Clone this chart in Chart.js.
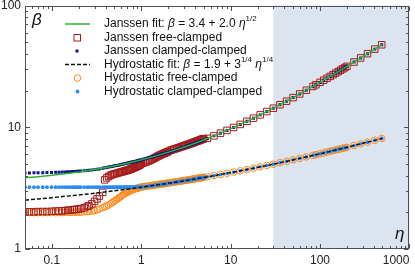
<!DOCTYPE html>
<html>
<head>
<meta charset="utf-8">
<script src="https://cdn.jsdelivr.net/npm/chart.js@4.4.1/dist/chart.umd.min.js"></script>
<style>
  html, body { margin: 0; padding: 0; background: #fff; }
</style>
</head>
<body>
<canvas id="myChart" width="415" height="270"></canvas>
<script>
// eta values of the computed points (shared by the four data sets)
const eta = [
  // 0.05 - 0.37
  0.05, 0.056, 0.063, 0.07, 0.079, 0.088, 0.099, 0.11, 0.12, 0.13,
  0.14, 0.15, 0.16, 0.17, 0.18, 0.19, 0.2, 0.21, 0.23, 0.25,
  0.26, 0.28, 0.3, 0.32, 0.34, 0.37,
  // 0.39 - 0.97
  0.39, 0.41, 0.43, 0.45, 0.47, 0.49, 0.51, 0.53, 0.55, 0.57,
  0.59, 0.61, 0.63, 0.65, 0.67, 0.69, 0.71, 0.73, 0.75, 0.77,
  0.79, 0.81, 0.83, 0.85, 0.87, 0.89, 0.91, 0.93, 0.95, 0.97,
  // 1 - 5
  1, 1.05, 1.1, 1.15, 1.2, 1.25, 1.3, 1.35, 1.4, 1.45,
  1.5, 1.55, 1.6, 1.65, 1.7, 1.75, 1.8, 1.85, 1.9, 1.95, 2,
  2.1, 2.2, 2.3, 2.4, 2.5, 2.6, 2.7, 2.8, 2.9, 3,
  3.1, 3.2, 3.3, 3.4, 3.5, 3.6, 3.7, 3.8, 3.9, 4,
  4.1, 4.2, 4.3, 4.4, 4.5, 4.6, 4.7, 4.8, 4.9, 5,
  // 5.5 - 490
  5.5, 6.5, 7.7, 9.1, 10.8, 12.8, 15.2, 18, 21.4, 25.4,
  30, 35.6, 42.2, 50, 59.3, 70.3, 83.4, 90, 100, 110,
  120, 130, 140, 150, 160, 170, 180, 190, 200,
  240, 285, 340, 410, 490
]

const janssenFree = [
  2.02, 2.02, 2.02, 2.03, 2.03, 2.03, 2.04, 2.05, 2.05, 2.06,
  2.07, 2.08, 2.09, 2.10, 2.11, 2.12, 2.13, 2.15, 2.18, 2.24,
  2.27, 2.35, 2.46, 2.58, 2.72, 2.92,
  3.70, 3.84, 3.94, 4.02, 4.07, 4.12, 4.15, 4.18, 4.22, 4.25,
  4.28, 4.31, 4.34, 4.37, 4.40, 4.42, 4.45, 4.48, 4.52, 4.55,
  4.58, 4.62, 4.65, 4.69, 4.72, 4.76, 4.80, 4.84, 4.88, 4.92,
  5.02, 5.08, 5.15, 5.21, 5.28, 5.35, 5.42, 5.50, 5.58, 5.66,
  5.74, 5.81, 5.88, 5.94, 6.00, 6.06, 6.12, 6.17, 6.22, 6.27, 6.32,
  6.46, 6.53, 6.59, 6.66, 6.73, 6.79, 6.85, 6.92, 6.98, 7.04,
  7.09, 7.15, 7.21, 7.27, 7.32, 7.37, 7.43, 7.48, 7.53, 7.59,
  7.64, 7.69, 7.74, 7.78, 7.83, 7.88, 7.93, 7.98, 8.02, 8.07,
  8.12, 8.50, 8.95, 9.43, 9.97, 10.56, 11.20, 11.89, 12.65, 13.48,
  14.35, 15.33, 16.39, 17.54, 18.80, 20.17, 21.67, 22.37, 23.40, 24.38,
  25.31, 26.20, 27.06, 27.90, 28.70, 29.48, 30.23, 30.97, 31.68,
  34.38, 37.16, 40.28, 43.90, 47.67
]

const janssenClamped = [
  4.22, 4.22, 4.23, 4.23, 4.24, 4.25, 4.26, 4.27, 4.28, 4.29,
  4.30, 4.31, 4.32, 4.33, 4.34, 4.35, 4.36, 4.37, 4.40, 4.42,
  4.44, 4.46, 4.49, 4.52, 4.55, 4.60,
  4.65, 4.68, 4.71, 4.74, 4.77, 4.80, 4.83, 4.86, 4.88, 4.91,
  4.94, 4.96, 4.99, 5.01, 5.04, 5.06, 5.09, 5.11, 5.13, 5.16,
  5.18, 5.20, 5.22, 5.24, 5.27, 5.29, 5.31, 5.33, 5.35, 5.37,
  5.42, 5.47, 5.52, 5.57, 5.61, 5.66, 5.70, 5.74, 5.79, 5.83,
  5.87, 5.91, 5.95, 5.99, 6.03, 6.06, 6.10, 6.14, 6.17, 6.21, 6.24,
  6.30, 6.37, 6.43, 6.50, 6.56, 6.63, 6.69, 6.75, 6.81, 6.86,
  6.92, 6.98, 7.03, 7.09, 7.14, 7.20, 7.25, 7.30, 7.35, 7.40,
  7.45, 7.50, 7.55, 7.60, 7.64, 7.69, 7.74, 7.78, 7.83, 7.87,
  8.09, 8.50, 8.95, 9.43, 9.97, 10.56, 11.20, 11.89, 12.65, 13.48,
  14.35, 15.33, 16.39, 17.54, 18.80, 20.17, 21.67, 22.37, 23.40, 24.38,
  25.31, 26.20, 27.06, 27.90, 28.70, 29.48, 30.23, 30.97, 31.68,
  34.38, 37.16, 40.28, 43.90, 47.67
]

const hydroFree = [
  1.99, 1.99, 1.99, 1.99, 1.99, 1.99, 1.99, 1.99, 1.99, 1.99,
  2.00, 2.00, 2.00, 2.00, 2.00, 2.01, 2.01, 2.01, 2.02, 2.03,
  2.04, 2.05, 2.07, 2.10, 2.13, 2.18,
  2.22, 2.26, 2.30, 2.35, 2.40, 2.45, 2.50, 2.55, 2.60, 2.65,
  2.70, 2.75, 2.80, 2.84, 2.88, 2.91, 2.95, 2.98, 3.01, 3.04,
  3.06, 3.08, 3.10, 3.12, 3.14, 3.15, 3.16, 3.18, 3.19, 3.21,
  3.23, 3.25, 3.26, 3.28, 3.29, 3.31, 3.32, 3.33, 3.35, 3.36,
  3.37, 3.38, 3.40, 3.41, 3.42, 3.43, 3.44, 3.45, 3.46, 3.47, 3.48,
  3.50, 3.52, 3.54, 3.55, 3.57, 3.59, 3.60, 3.62, 3.63, 3.65,
  3.66, 3.68, 3.69, 3.70, 3.72, 3.73, 3.74, 3.75, 3.77, 3.78,
  3.79, 3.80, 3.81, 3.82, 3.83, 3.84, 3.85, 3.86, 3.87, 3.88,
  3.92, 4.00, 4.09, 4.19, 4.29, 4.39, 4.50, 4.61, 4.73, 4.86,
  4.98, 5.12, 5.25, 5.40, 5.55, 5.71, 5.88, 5.95, 6.06, 6.16,
  6.26, 6.34, 6.43, 6.51, 6.58, 6.65, 6.72, 6.79, 6.85,
  7.08, 7.31, 7.55, 7.82, 8.09
]

const hydroClamped = [
  3.22, 3.22, 3.22, 3.22, 3.22, 3.22, 3.22, 3.22, 3.22, 3.22,
  3.22, 3.22, 3.22, 3.22, 3.22, 3.22, 3.22, 3.22, 3.22, 3.22,
  3.22, 3.22, 3.22, 3.22, 3.22, 3.22,
  3.22, 3.22, 3.22, 3.22, 3.22, 3.22, 3.22, 3.22, 3.22, 3.22,
  3.22, 3.22, 3.22, 3.22, 3.22, 3.22, 3.22, 3.22, 3.22, 3.22,
  3.22, 3.22, 3.22, 3.22, 3.23, 3.23, 3.23, 3.23, 3.23, 3.23,
  3.24, 3.24, 3.25, 3.26, 3.28, 3.29, 3.31, 3.32, 3.33, 3.34,
  3.36, 3.37, 3.38, 3.39, 3.40, 3.41, 3.42, 3.44, 3.45, 3.46, 3.47,
  3.48, 3.50, 3.52, 3.54, 3.56, 3.57, 3.59, 3.60, 3.62, 3.63,
  3.65, 3.66, 3.67, 3.69, 3.70, 3.71, 3.73, 3.74, 3.75, 3.76,
  3.77, 3.78, 3.80, 3.81, 3.82, 3.83, 3.84, 3.85, 3.86, 3.87,
  3.92, 4.00, 4.09, 4.19, 4.29, 4.39, 4.50, 4.61, 4.73, 4.86,
  4.98, 5.12, 5.25, 5.40, 5.55, 5.71, 5.88, 5.95, 6.06, 6.16,
  6.26, 6.34, 6.43, 6.51, 6.58, 6.65, 6.72, 6.79, 6.85,
  7.08, 7.31, 7.55, 7.82, 8.09
]

// fit curves
const fitEta = [0.05, 0.07, 0.1, 0.14, 0.2, 0.3, 0.45, 0.7, 1, 1.5, 2.2, 3.3, 5, 7.5, 11, 16, 24, 35, 50, 75, 110, 160, 240, 350, 500]
const janssenFit = [3.85, 3.93, 4.03, 4.15, 4.29, 4.50, 4.74, 5.07, 5.40, 5.85, 6.37, 7.03, 7.87, 8.88, 10.03, 11.40, 13.20, 15.23, 17.54, 20.72, 24.38, 28.70, 34.38, 40.82, 48.12]
const hydroFit = [2.52, 2.58, 2.64, 2.71, 2.78, 2.87, 2.98, 3.10, 3.22, 3.36, 3.50, 3.67, 3.87, 4.08, 4.30, 4.53, 4.81, 5.10, 5.40, 5.77, 6.16, 6.58, 7.08, 7.59, 8.12]

const xTickLabels = [0.1, 1, 10, 100, 1000]
const yTickLabels = [1, 10, 100]
const shadeFrom = 30

const FONT = '"Liberation Sans", Arial, sans-serif'

const pts = (xs, ys) => xs.map((x, i) => ({ x: x, y: ys[i] }))
const isLabel = (list, v) => list.some(t => Math.abs(t - v) / t < 1e-6)

// shaded region, box frame with inward ticks
const frame = {
  id: 'frame',
  beforeDatasetsDraw(chart) {
    const { ctx, chartArea: a, scales: { x } } = chart
    const x0 = x.getPixelForValue(shadeFrom)
    ctx.save()
    ctx.fillStyle = '#dce4f0'
    ctx.fillRect(x0, a.top, a.right - x0, a.bottom - a.top)
    ctx.restore()
  },
  afterDatasetsDraw(chart) {
    const { ctx, chartArea: a, scales: { x, y } } = chart
    const L = Math.round(a.left) + 0.5, R = Math.round(a.right) - 0.5
    const T = Math.round(a.top) + 0.5, B = Math.round(a.bottom) - 0.5
    ctx.save()
    ctx.strokeStyle = '#505050'
    ctx.lineWidth = 1
    ctx.strokeRect(L, T, R - L, B - T)
    ctx.beginPath()
    for (let e = -2; e <= 3; e++) {
      for (let m = 1; m <= 9; m++) {
        const v = m * Math.pow(10, e)
        const len = m === 1 ? 4.5 : 2.5
        if (v >= x.min * 0.999 && v <= x.max * 1.001) {
          const px = Math.round(x.getPixelForValue(v)) + 0.5
          ctx.moveTo(px, B); ctx.lineTo(px, B - len)
          ctx.moveTo(px, T); ctx.lineTo(px, T + len)
        }
        if (v >= y.min * 0.999 && v <= y.max * 1.001) {
          const py = Math.round(y.getPixelForValue(v)) + 0.5
          ctx.moveTo(L, py); ctx.lineTo(L + len, py)
          ctx.moveTo(R, py); ctx.lineTo(R - len, py)
        }
      }
    }
    ctx.stroke()
    ctx.restore()
  }
}

function rich(ctx, parts, x, y) {
  parts.forEach(p => {
    const sup = p[1] === 's', ital = p[1] === 'i'
    ctx.font = (ital ? 'italic ' : '') + (sup ? '8px ' : '12px ') + FONT
    ctx.fillText(p[0], x, sup ? y - 5 : y)
    x += ctx.measureText(p[0]).width
  })
}

// legend inside the plot, plus the axis symbols
const legendBox = {
  id: 'legendBox',
  afterDraw(chart) {
    const ctx = chart.ctx
    const sx = 77, tx = 104
    const rows = [24, 37.5, 51, 64.5, 78, 91.5]
    ctx.save()
    ctx.textBaseline = 'middle'
    ctx.fillStyle = '#111'

    ctx.strokeStyle = '#2db52d'; ctx.lineWidth = 1.5
    ctx.beginPath(); ctx.moveTo(65, rows[0]); ctx.lineTo(90, rows[0]); ctx.stroke()
    rich(ctx, [['Janssen fit: '], ['β', 'i'], [' = 3.4 + 2.0 '], ['η', 'i'], ['1/2', 's']], tx, rows[0])

    ctx.strokeStyle = '#a51c1c'; ctx.lineWidth = 1
    ctx.strokeRect(sx - 3, rows[1] - 3, 6.5, 6.5)
    rich(ctx, [['Janssen free-clamped']], tx, rows[1])

    ctx.fillStyle = '#12128c'
    ctx.fillRect(sx - 1.5, rows[2] - 1.5, 3, 3)
    ctx.fillStyle = '#111'
    rich(ctx, [['Janssen clamped-clamped']], tx, rows[2])

    ctx.strokeStyle = '#111'; ctx.lineWidth = 1.5; ctx.setLineDash([4, 2])
    ctx.beginPath(); ctx.moveTo(65, rows[3]); ctx.lineTo(90, rows[3]); ctx.stroke()
    ctx.setLineDash([])
    rich(ctx, [['Hydrostatic fit: '], ['β', 'i'], [' = 1.9 + 3'], ['1/4', 's'], [' '], ['η', 'i'], ['1/4', 's']], tx, rows[3])

    ctx.strokeStyle = '#ff8a1c'; ctx.lineWidth = 1
    ctx.beginPath(); ctx.arc(sx + 0.5, rows[4], 3.3, 0, Math.PI * 2); ctx.stroke()
    rich(ctx, [['Hydrostatic free-clamped']], tx, rows[4])

    ctx.fillStyle = '#2a8cf0'
    ctx.beginPath(); ctx.arc(sx + 0.5, rows[5], 1.9, 0, Math.PI * 2); ctx.fill()
    ctx.fillStyle = '#111'
    rich(ctx, [['Hydrostatic clamped-clamped']], tx, rows[5])

    ctx.font = 'italic 17px ' + FONT
    ctx.textBaseline = 'alphabetic'
    ctx.fillText('β', 32, 25)
    ctx.fillText('η', 395, 239)
    ctx.restore()
  }
}

const tickFont = { family: FONT, size: 12 }

new Chart(document.getElementById('myChart'), {
  type: 'scatter',
  data: {
    datasets: [
      {
        label: 'Janssen fit',
        data: pts(fitEta, janssenFit),
        showLine: true, borderColor: '#2db52d', borderWidth: 1.5, pointRadius: 0, order: 0
      },
      {
        label: 'Hydrostatic fit',
        data: pts(fitEta, hydroFit),
        showLine: true, borderColor: '#111', borderWidth: 1.5, borderDash: [4, 2], pointRadius: 0, order: 1
      },
      {
        label: 'Janssen clamped-clamped',
        data: pts(eta, janssenClamped),
        pointStyle: 'rect', pointRadius: 2.1, backgroundColor: '#12128c', borderColor: '#12128c', borderWidth: 0, order: 2
      },
      {
        label: 'Hydrostatic clamped-clamped',
        data: pts(eta, hydroClamped),
        pointStyle: 'circle', pointRadius: 1.9, backgroundColor: '#2a8cf0', borderColor: '#2a8cf0', borderWidth: 0, order: 3
      },
      {
        label: 'Janssen free-clamped',
        data: pts(eta, janssenFree),
        pointStyle: 'rect', pointRadius: 4.6, backgroundColor: 'rgba(0,0,0,0)', borderColor: '#a51c1c', borderWidth: 1, order: 4
      },
      {
        label: 'Hydrostatic free-clamped',
        data: pts(eta, hydroFree),
        pointStyle: 'circle', pointRadius: 3.3, backgroundColor: 'rgba(0,0,0,0)', borderColor: '#ff8a1c', borderWidth: 1, order: 5
      }
    ]
  },
  options: {
    responsive: false,
    animation: false,
    devicePixelRatio: 1,
    layout: { padding: { top: 5, right: 4, bottom: 0, left: 0 } },
    plugins: { legend: { display: false }, tooltip: { enabled: false } },
    scales: {
      x: {
        type: 'logarithmic', min: 0.05, max: 1000,
        grid: { display: false, drawTicks: false },
        border: { display: false },
        ticks: {
          autoSkip: false, maxRotation: 0, align: 'inner', padding: 4,
          color: '#222', font: tickFont,
          callback: v => isLabel(xTickLabels, v) ? String(v) : ''
        },
        afterFit: s => { s.height = 21; s.paddingLeft = 0; s.paddingRight = 0 }
      },
      y: {
        type: 'logarithmic', min: 1, max: 100,
        grid: { display: false, drawTicks: false },
        border: { display: false },
        ticks: {
          autoSkip: false, padding: 4,
          color: '#222', font: tickFont,
          callback: v => isLabel(yTickLabels, v) ? String(v) : ''
        },
        afterFit: s => { s.width = 25; s.paddingTop = 0; s.paddingBottom = 0 }
      }
    }
  },
  plugins: [frame, legendBox]
})
</script>
</body>
</html>
